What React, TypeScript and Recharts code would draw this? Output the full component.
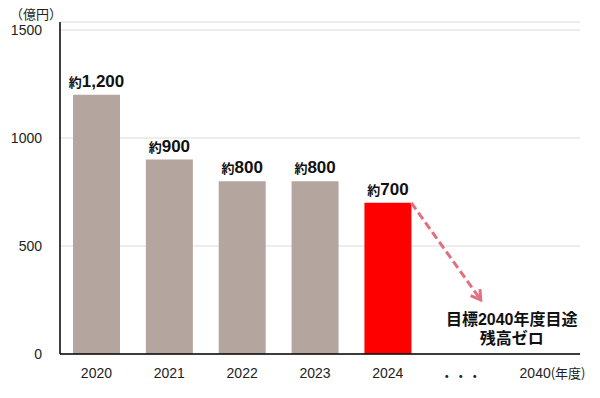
import { Bar, BarChart, CartesianGrid, Cell, LabelList, ReferenceLine, XAxis, YAxis } from "recharts";

const years = ["2020", "2021", "2022", "2023", "2024", "...", "2040"];
const balances = [1200, 900, 800, 800, 700, null, null];
const valueLabels = ["1,200", "900", "800", "800", "700"];
const barColors = ["#b4a69e", "#b4a69e", "#b4a69e", "#b4a69e", "#ff0000"];
const yTicks = [0, 500, 1000, 1500];
const targetLines = ["目標2040年度目途", "残高ゼロ"];
const arrowEnd = { x: "...", y: 250 };

const FONT = '"Liberation Sans", Arial, "Noto Sans CJK JP", sans-serif';
const CJK = '"Noto Sans CJK JP", sans-serif';

const data = years.map((year, i) => ({ year, value: balances[i] }));

function XTick(props: any) {
  const { x, y, payload } = props;
  if (payload.value === "...") {
    return (
      <text x={x} y={y + 19} textAnchor="middle" fontSize={14} fontFamily={CJK} fill="#222">
        ・・・
      </text>
    );
  }
  if (payload.value === "2040") {
    return (
      <text x={x - 14} y={y + 16} fontSize={14} fontFamily={FONT} fill="#222">
        2040<tspan fontSize={13} fontFamily={CJK}>(年度)</tspan>
      </text>
    );
  }
  return (
    <text x={x} y={y + 16} textAnchor="middle" fontSize={14} fontFamily={FONT} fill="#222">
      {payload.value}
    </text>
  );
}

function ValueLabel(props: any) {
  const { x, y, width, index } = props;
  const label = valueLabels[index];
  if (!label) return null;
  return (
    <text x={x + width / 2} y={y - 8} textAnchor="middle" fill="#111" fontFamily={FONT}>
      <tspan fontSize={13} fontWeight="bold" fontFamily={CJK}>約</tspan>
      <tspan fontSize={17} fontWeight="bold">{label}</tspan>
    </text>
  );
}

function ArrowShape(props: any) {
  const { x1, y1, x2, y2 } = props;
  const sx = x1 + 23.5;
  const ex = x2 + 20;
  const ang = Math.atan2(y2 - y1, ex - sx);
  const hl = 11;
  const a1 = ang + Math.PI - 0.55;
  const a2 = ang + Math.PI + 0.55;
  return (
    <g>
      <line x1={sx} y1={y1} x2={ex - 2} y2={y2 - 3} stroke="#e0707f" strokeWidth={3} strokeDasharray="8 4" />
      <polyline
        points={`${ex + hl * Math.cos(a1)},${y2 + hl * Math.sin(a1)} ${ex},${y2} ${ex + hl * Math.cos(a2)},${y2 + hl * Math.sin(a2)}`}
        fill="none"
        stroke="#e0707f"
        strokeWidth={3}
      />
      {targetLines.map((t, i) => (
        <text
          key={t}
          x={x2 + 51}
          y={y2 + 25 + i * 19}
          textAnchor="middle"
          fontSize={16}
          fontWeight="bold"
          fontFamily={FONT}
          fill="#111"
        >
          {t}
        </text>
      ))}
    </g>
  );
}

export default function App() {
  return (
    <div style={{ position: "absolute", left: 0, top: 0, width: 600, height: 398, background: "#fff" }}>
      <div style={{ position: "absolute", left: 10, top: 4, fontSize: 13, fontFamily: CJK, color: "#222" }}>
        （億円）
      </div>
      <BarChart width={600} height={398} data={data} margin={{ top: 22, right: 20, bottom: 14, left: 0 }}>
        <CartesianGrid vertical={false} stroke="#dcdcdc" />
        <XAxis
          dataKey="year"
          height={30}
          padding={{ left: 0, right: 10 }}
          axisLine={{ stroke: "#000", strokeWidth: 1.5 }}
          tickLine={false}
          tick={<XTick />}
          interval={0}
        />
        <YAxis
          width={60}
          domain={[0, 1537]}
          ticks={yTicks}
          axisLine={{ stroke: "#000", strokeWidth: 1.5 }}
          tickLine={false}
          tick={{ fontSize: 14, fill: "#222", fontFamily: FONT }}
          tickMargin={12}
        />
        <Bar dataKey="value" barSize={47} isAnimationActive={false}>
          {data.map((d, i) => (
            <Cell key={d.year} fill={barColors[i] || "#b4a69e"} />
          ))}
          <LabelList dataKey="value" content={<ValueLabel />} />
        </Bar>
        <ReferenceLine
          segment={[
            { x: "2024", y: 700 },
            arrowEnd,
          ]}
          ifOverflow="visible"
          shape={<ArrowShape />}
        />
      </BarChart>
    </div>
  );
}
